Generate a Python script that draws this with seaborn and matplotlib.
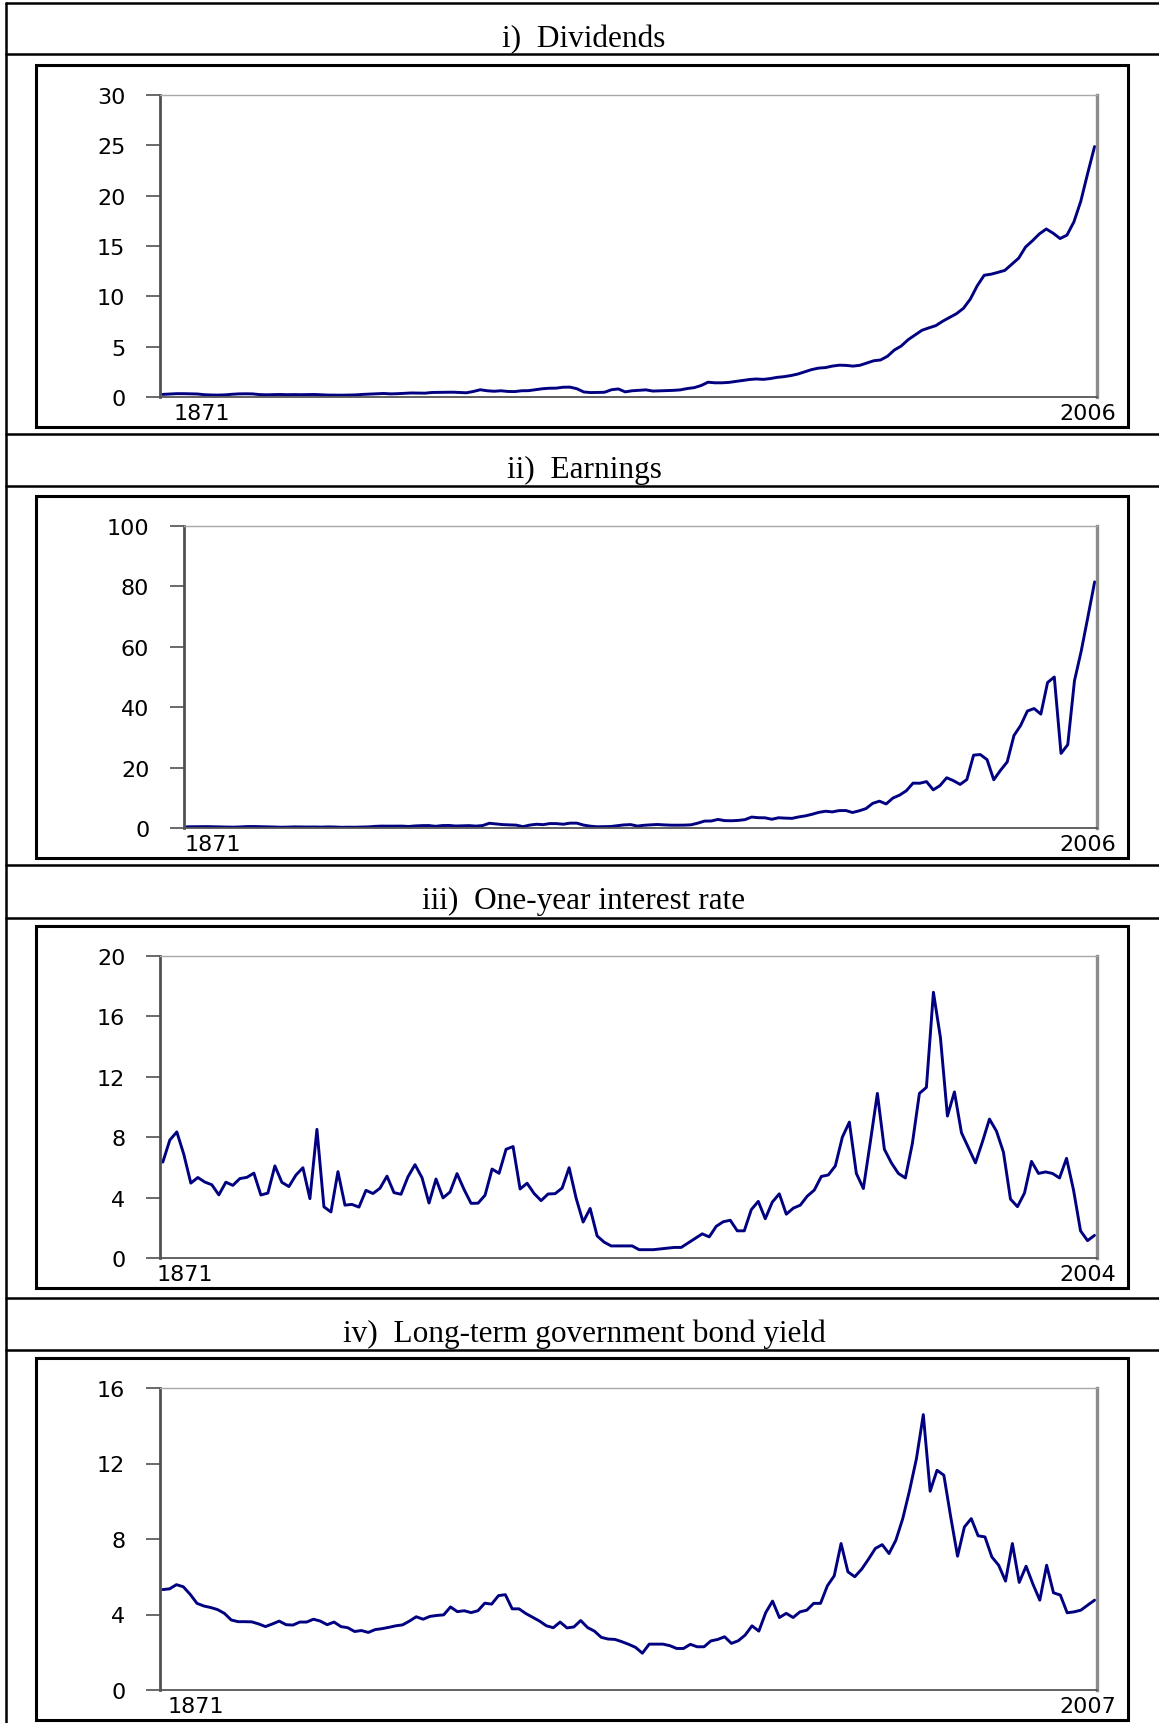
import matplotlib
matplotlib.use("Agg")
import matplotlib.pyplot as plt
import seaborn as sns
import pandas as pd
from matplotlib.lines import Line2D
from matplotlib.patches import Rectangle

# ---------------- data ----------------
years_div = list(range(1871, 2007))
dividends = [
    0.26, 0.30, 0.33, 0.33, 0.31, 0.30, 0.23, 0.20, 0.19, 0.21,
    0.27, 0.31, 0.32, 0.31, 0.24, 0.22, 0.23, 0.25, 0.23, 0.24,
    0.23, 0.24, 0.25, 0.22, 0.19, 0.18, 0.18, 0.19, 0.21, 0.26,
    0.29, 0.32, 0.35, 0.31, 0.33, 0.37, 0.40, 0.39, 0.38, 0.45,
    0.46, 0.47, 0.48, 0.45, 0.42, 0.55, 0.72, 0.62, 0.57, 0.62,
    0.55, 0.54, 0.62, 0.63, 0.72, 0.82, 0.87, 0.88, 0.97, 0.98,
    0.82, 0.50, 0.44, 0.45, 0.47, 0.72, 0.80, 0.51, 0.62, 0.67,
    0.71, 0.59, 0.61, 0.64, 0.66, 0.71, 0.84, 0.93, 1.14, 1.47,
    1.41, 1.41, 1.45, 1.54, 1.64, 1.74, 1.79, 1.75, 1.83, 1.95,
    2.02, 2.13, 2.28, 2.50, 2.72, 2.87, 2.92, 3.07, 3.16, 3.14,
    3.07, 3.15, 3.38, 3.60, 3.68, 4.05, 4.67, 5.07, 5.70, 6.16,
    6.63, 6.87, 7.09, 7.53, 7.90, 8.28, 8.81, 9.73, 11.05, 12.09,
    12.20, 12.38, 12.58, 13.18, 13.79, 14.90, 15.52, 16.20, 16.69, 16.27,
    15.74, 16.08, 17.39, 19.44, 22.22, 24.88,
]

years_earn = list(range(1871, 2007))
earnings = [
    0.40, 0.43, 0.46, 0.46, 0.40, 0.35, 0.31, 0.28, 0.36, 0.48,
    0.49, 0.44, 0.40, 0.33, 0.25, 0.29, 0.37, 0.34, 0.32, 0.34,
    0.30, 0.37, 0.33, 0.23, 0.27, 0.26, 0.32, 0.37, 0.54, 0.63,
    0.61, 0.63, 0.63, 0.51, 0.69, 0.79, 0.81, 0.56, 0.81, 0.84,
    0.66, 0.74, 0.79, 0.63, 0.81, 1.57, 1.35, 1.12, 1.04, 0.95,
    0.45, 0.96, 1.24, 1.11, 1.47, 1.45, 1.25, 1.61, 1.61, 0.97,
    0.61, 0.41, 0.44, 0.49, 0.76, 1.02, 1.13, 0.64, 0.90, 1.05,
    1.16, 1.03, 0.94, 0.93, 0.96, 1.06, 1.61, 2.29, 2.32, 2.84,
    2.44, 2.40, 2.51, 2.77, 3.62, 3.41, 3.37, 2.89, 3.39, 3.27,
    3.19, 3.67, 4.02, 4.55, 5.19, 5.55, 5.33, 5.76, 5.78, 5.13,
    5.70, 6.42, 8.16, 8.89, 7.96, 9.91, 10.89, 12.33, 14.86, 14.82,
    15.36, 12.64, 14.03, 16.64, 15.68, 14.43, 16.04, 24.12, 24.32, 22.65,
    15.97, 19.09, 21.89, 30.60, 33.96, 38.73, 39.56, 37.71, 48.17, 50.00,
    24.69, 27.59, 48.74, 58.55, 69.93, 81.51,
]

years_rate = list(range(1871, 2005))
one_year_rate = [
    6.35, 7.81, 8.35, 6.86, 4.96, 5.33, 5.03, 4.85, 4.18, 5.02,
    4.81, 5.26, 5.34, 5.62, 4.17, 4.30, 6.10, 5.01, 4.73, 5.49,
    5.98, 3.93, 8.52, 3.39, 3.05, 5.72, 3.50, 3.55, 3.37, 4.48,
    4.27, 4.62, 5.42, 4.33, 4.22, 5.38, 6.18, 5.32, 3.64, 5.23,
    3.98, 4.37, 5.59, 4.54, 3.62, 3.63, 4.16, 5.89, 5.61, 7.20,
    7.38, 4.57, 4.95, 4.27, 3.80, 4.24, 4.26, 4.63, 5.98, 3.96,
    2.38, 3.28, 1.46, 1.05, 0.80, 0.80, 0.80, 0.80, 0.55, 0.55,
    0.55, 0.60, 0.65, 0.70, 0.70, 1.00, 1.30, 1.60, 1.40, 2.10,
    2.40, 2.50, 1.80, 1.80, 3.20, 3.75, 2.60, 3.70, 4.25, 2.90,
    3.30, 3.50, 4.10, 4.50, 5.40, 5.50, 6.10, 8.00, 9.00, 5.60,
    4.60, 7.70, 10.90, 7.20, 6.30, 5.60, 5.30, 7.60, 10.90, 11.30,
    17.60, 14.60, 9.40, 11.00, 8.30, 7.30, 6.30, 7.70, 9.20, 8.40,
    7.00, 3.90, 3.40, 4.30, 6.40, 5.60, 5.70, 5.60, 5.30, 6.60,
    4.50, 1.80, 1.15, 1.50,
]

years_bond = list(range(1871, 2008))
bond_yield = [
    5.32, 5.36, 5.58, 5.47, 5.07, 4.59, 4.45, 4.37, 4.26, 4.06,
    3.71, 3.62, 3.62, 3.61, 3.50, 3.36, 3.50, 3.65, 3.46, 3.44,
    3.60, 3.60, 3.75, 3.65, 3.46, 3.60, 3.36, 3.30, 3.10, 3.15,
    3.05, 3.20, 3.25, 3.32, 3.40, 3.45, 3.65, 3.88, 3.75, 3.90,
    3.95, 3.98, 4.40, 4.15, 4.20, 4.10, 4.20, 4.60, 4.55, 5.00,
    5.05, 4.30, 4.30, 4.05, 3.85, 3.65, 3.40, 3.30, 3.60, 3.29,
    3.34, 3.68, 3.31, 3.12, 2.79, 2.70, 2.68, 2.56, 2.42, 2.26,
    1.95, 2.43, 2.43, 2.43, 2.35, 2.20, 2.20, 2.42, 2.29, 2.29,
    2.60, 2.68, 2.82, 2.47, 2.61, 2.91, 3.40, 3.12, 4.10, 4.71,
    3.84, 4.06, 3.84, 4.14, 4.23, 4.59, 4.59, 5.52, 6.05, 7.76,
    6.26, 6.00, 6.40, 6.93, 7.50, 7.70, 7.23, 7.94, 9.08, 10.58,
    12.26, 14.59, 10.53, 11.64, 11.38, 9.17, 7.09, 8.64, 9.08, 8.17,
    8.11, 7.05, 6.61, 5.77, 7.76, 5.70, 6.56, 5.61, 4.76, 6.61,
    5.15, 5.03, 4.09, 4.14, 4.23, 4.50, 4.76,
]

titles = ["i)  Dividends", "ii)  Earnings",
          "iii)  One-year interest rate", "iv)  Long-term government bond yield"]
y_ticks = [[0, 5, 10, 15, 20, 25, 30], [0, 20, 40, 60, 80, 100],
           [0, 4, 8, 12, 16, 20], [0, 4, 8, 12, 16]]
first_labels = ["1871", "1871", "1871", "1871"]
last_labels = ["2006", "2006", "2004", "2007"]

series = [(years_div, dividends), (years_earn, earnings),
          (years_rate, one_year_rate), (years_bond, bond_yield)]

# ---------------- style ----------------
sns.set_theme(style="white")
plt.rcParams["font.family"] = ["DejaVu Sans"]

W, H = 1159, 1724
fig = plt.figure(figsize=(W / 100, H / 100), dpi=100)
fig.patch.set_facecolor("white")


def fx(px):
    return px / W


def fy(py):
    return 1 - py / H


row_top = [4, 435, 866, 1299]
title_base = [47, 478, 909, 1342]
under_line = [55, 487, 919, 1351]
axes_left = [160, 184, 160, 160]
axes_top = [96, 527, 957, 1389]
axes_h = 302
axes_right = 1097
first_off = [14, 1, -3, 8]
line_color = "#000080"

# outer table lines
fig.add_artist(Line2D([fx(6), fx(6)], [fy(4), fy(H)], transform=fig.transFigure,
                      color="black", lw=1.8))
for yv in row_top + under_line:
    fig.add_artist(Line2D([fx(6), fx(W)], [fy(yv), fy(yv)], transform=fig.transFigure,
                          color="black", lw=1.8))

for i in range(4):
    fig.text(fx(584), fy(title_base[i]), titles[i], ha="center", va="baseline",
             fontsize=22.5, family=["Liberation Serif", "DejaVu Serif"], color="black")
    box_top = axes_top[i] - 30
    box_bot = axes_top[i] + axes_h + 30
    fig.add_artist(Rectangle((fx(36), fy(box_bot)), (1128 - 36) / W, (box_bot - box_top) / H,
                             transform=fig.transFigure, fill=False, ec="black", lw=2.2))

    l = axes_left[i]
    t = axes_top[i]
    ax = fig.add_axes([fx(l), fy(t + axes_h), (axes_right - l) / W, axes_h / H])
    yrs, vals = series[i]
    df = pd.DataFrame({"year": yrs, "value": vals})
    sns.lineplot(data=df, x="year", y="value", ax=ax, color=line_color, linewidth=2.1)
    ax.set_xlabel("")
    ax.set_ylabel("")
    ax.set_xlim(1870.6, yrs[-1] + 0.35)
    ax.set_ylim(y_ticks[i][0], y_ticks[i][-1])
    ax.set_yticks(y_ticks[i])
    ax.set_yticklabels([str(v) for v in y_ticks[i]])
    ax.set_xticks([])
    ax.tick_params(axis="y", direction="out", length=10, width=1.2, color="#505050",
                   pad=15, labelsize=16, labelcolor="black", left=True)
    ax.set_facecolor("white")
    ax.grid(False)
    ax.spines["top"].set_color("#a8a8a8")
    ax.spines["top"].set_linewidth(1.0)
    ax.spines["right"].set_color("#8c8c8c")
    ax.spines["right"].set_linewidth(2.4)
    ax.spines["bottom"].set_color("#555555")
    ax.spines["bottom"].set_linewidth(1.3)
    ax.spines["left"].set_color("#505050")
    ax.spines["left"].set_linewidth(2.0)

    ax.annotate(first_labels[i], xy=(0, 0), xycoords="axes fraction",
                xytext=(first_off[i] * 0.72, -6 * 0.72), textcoords="offset points",
                ha="left", va="top", fontsize=16, color="black")
    ax.annotate(last_labels[i], xy=(1, 0), xycoords="axes fraction",
                xytext=(19 * 0.72, -6 * 0.72), textcoords="offset points",
                ha="right", va="top", fontsize=16, color="black")

fig.savefig("out.png", dpi=100, facecolor="white")
